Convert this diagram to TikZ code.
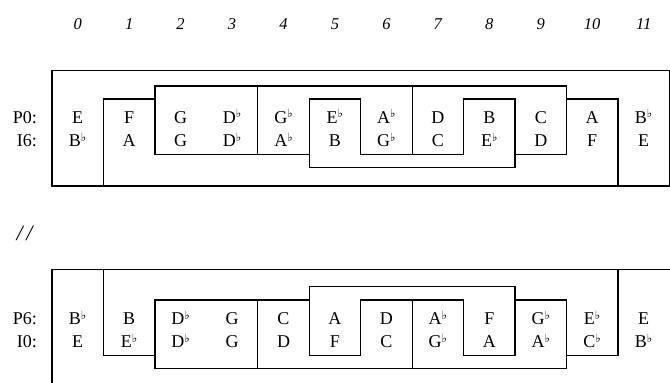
\documentclass[tikz,border=0pt]{standalone}
\usepackage{fontspec}
\setmainfont{Liberation Serif}
\newfontfamily\flatfont{DejaVu Serif}
\newcommand{\fl}{\raisebox{0.28em}{\flatfont\fontsize{11.5}{12}\selectfont ♭}}
\begin{document}
\begin{tikzpicture}[x=1pt,y=-1pt,
  cell/.style={anchor=base,inner sep=0pt,font=\fontsize{18}{20}\selectfont},
  lbl/.style={anchor=base east,inner sep=0pt,font=\fontsize{18}{20}\selectfont},
  num/.style={anchor=base,inner sep=0pt,font=\fontsize{16.5}{19}\selectfont\itshape},
  ln/.style={line width=1.2pt,line join=miter},
  box/.style={ln,fill=white}]
\useasboundingbox (0,0) rectangle (670,383);

% column numbers
\foreach \n in {0,...,11}
  \node[num] (col\n) at ({77.7+51.45*\n},29.5) {\n};

% ---------- upper figure (P0 / I6) ----------
\draw[ln] (52,70.3) rectangle (669.4,186);
\draw[box] (103.45,186) -- (103.45,99) -- (617.95,99) -- (617.95,186) -- cycle;
\draw[box] (154.9,86) rectangle (566.5,154.7);
\draw[ln] (257.8,86) -- (257.8,154.7);
\draw[ln] (412.15,86) -- (412.15,154.7);
\draw[box] (309.25,99) -- (360.7,99) -- (360.7,154.7) -- (463.6,154.7)
  -- (463.6,99) -- (515.05,99) -- (515.05,167.2) -- (309.25,167.2) -- cycle;

\node[lbl] (lP0) at (37,123) {P0:};
\node[lbl] (lI6) at (37,146.5) {I6:};
\foreach \t [count=\i from 0] in {E,F,G,D\fl,G\fl,E\fl,A\fl,D,B,C,A,B\fl}
  \node[cell] (pa\i) at ({77.7+51.45*\i},123) {\t};
\foreach \t [count=\i from 0] in {B\fl,A,G,D\fl,A\fl,B,G\fl,C,E\fl,D,F,E}
  \node[cell] (ia\i) at ({77.7+51.45*\i},146.5) {\t};

% separator
\node[anchor=base,inner sep=0pt,font=\fontsize{22}{24}\selectfont\itshape] (sep) at (24.5,240) {/\,/};

% ---------- lower figure (P6 / I0) ----------
\draw[ln] (52,395) -- (52,269.5) -- (680,269.5);
\draw[box] (103.45,269.5) -- (103.45,355.3) -- (617.95,355.3) -- (617.95,269.5) -- cycle;
\draw[box] (154.9,300) rectangle (566.5,368.3);
\draw[ln] (257.8,300) -- (257.8,368.3);
\draw[ln] (412.15,300) -- (412.15,368.3);
\draw[box] (309.25,286.7) -- (515.05,286.7) -- (515.05,355.5) -- (463.6,355.5)
  -- (463.6,300) -- (360.7,300) -- (360.7,355.5) -- (309.25,355.5) -- cycle;

\node[lbl] (lP6) at (37,324.5) {P6:};
\node[lbl] (lI0) at (37,347.5) {I0:};
\foreach \t [count=\i from 0] in {B\fl,B,D\fl,G,C,A,D,A\fl,F,G\fl,E\fl,E}
  \node[cell] (pb\i) at ({77.7+51.45*\i},324.5) {\t};
\foreach \t [count=\i from 0] in {E,E\fl,D\fl,G,D,F,C,G\fl,A,A\fl,C\fl,B\fl}
  \node[cell] (ib\i) at ({77.7+51.45*\i},347.5) {\t};
\end{tikzpicture}
\end{document}
